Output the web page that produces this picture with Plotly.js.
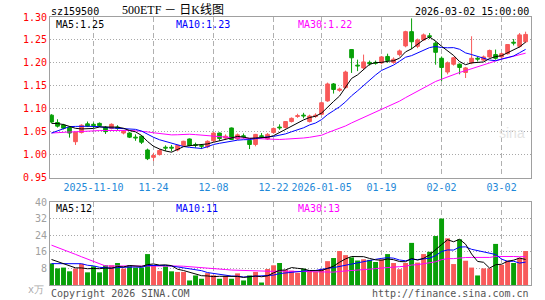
<!DOCTYPE html>
<html><head><meta charset="utf-8">
<script src="https://cdn.plot.ly/plotly-3.0.1.min.js"></script>
<style>html,body{margin:0;padding:0;background:#fff}#chart{width:545px;height:300px}</style>
</head><body><div id="chart"></div>
<script>
// ---- data ----
const opens = [1.086,1.070,1.0645,1.059,1.028,1.048,1.067,1.066,1.068,1.060,
1.057,1.060,1.047,1.047,1.038,1.040,1.010,0.994,1.000,1.016,
1.016,1.010,1.020,1.034,1.022,1.020,1.017,1.030,1.047,1.036,
1.058,1.034,1.041,1.031,1.022,1.041,1.034,1.048,1.060,1.059,
1.072,1.083,1.086,1.072,1.083,1.088,1.117,1.154,1.140,1.146,
1.229,1.195,1.189,1.201,1.201,1.200,1.214,1.201,1.218,1.237,
1.268,1.236,1.250,1.259,1.243,1.210,1.180,1.197,1.197,1.179,
1.200,1.210,1.206,1.213,1.218,1.213,1.220,1.245,1.236,1.246];
const highs = [1.088,1.077,1.067,1.061,1.050,1.066,1.072,1.070,1.070,1.062,
1.068,1.064,1.053,1.049,1.044,1.042,1.013,1.004,1.012,1.020,
1.021,1.021,1.030,1.035,1.026,1.023,1.031,1.049,1.048,1.044,
1.059,1.046,1.046,1.033,1.045,1.047,1.047,1.059,1.066,1.073,
1.081,1.089,1.091,1.087,1.090,1.115,1.157,1.156,1.146,1.183,
1.230,1.207,1.218,1.205,1.205,1.215,1.220,1.212,1.229,1.270,
1.297,1.253,1.264,1.265,1.247,1.214,1.203,1.213,1.199,1.191,
1.258,1.213,1.216,1.229,1.229,1.222,1.241,1.252,1.265,1.268];
const lows = [1.069,1.059,1.055,1.037,1.021,1.046,1.060,1.058,1.060,1.045,
1.055,1.054,1.044,1.036,1.030,1.023,0.988,0.986,0.998,1.008,
1.007,1.007,1.018,1.018,1.015,1.012,1.014,1.027,1.030,1.033,
1.032,1.032,1.035,1.012,1.018,1.036,1.032,1.046,1.054,1.057,
1.070,1.080,1.079,1.070,1.080,1.086,1.115,1.133,1.137,1.144,
1.178,1.182,1.185,1.194,1.196,1.197,1.200,1.198,1.214,1.234,
1.230,1.232,1.248,1.252,1.196,1.160,1.175,1.194,1.175,1.167,
1.197,1.203,1.204,1.211,1.207,1.210,1.218,1.238,1.233,1.243];
const closes = [1.071,1.062,1.0575,1.047,1.049,1.064,1.062,1.063,1.063,1.050,
1.066,1.057,1.051,1.038,1.036,1.027,0.991,0.998,1.009,1.014,
1.014,1.020,1.029,1.020,1.020,1.018,1.029,1.047,1.035,1.040,
1.033,1.043,1.039,1.022,1.044,1.039,1.044,1.057,1.058,1.072,
1.079,1.085,1.084,1.084,1.086,1.113,1.154,1.142,1.143,1.180,
1.211,1.193,1.202,1.198,1.199,1.213,1.205,1.208,1.226,1.268,
1.246,1.250,1.261,1.257,1.223,1.190,1.200,1.211,1.190,1.189,
1.210,1.208,1.213,1.227,1.210,1.220,1.240,1.243,1.261,1.262];
const volumes = [10.4,8.0,8.4,6.6,7.9,10.2,6.1,9.0,6.1,9.5,
9.5,10.6,7.9,9.5,8.4,8.4,14.9,9.5,6.7,9.0,
6.6,6.3,6.3,2.2,4.6,3.0,5.7,4.7,3.0,4.4,
3.0,5.6,2.2,4.6,6.3,1.2,7.7,9.5,10.6,7.3,
6.9,5.9,7.9,6.7,6.3,7.7,11.5,13.0,16.4,14.4,
13.3,11.8,12.4,12.1,11.1,12.3,14.9,10.6,7.6,10.6,
20.3,10.8,14.9,16.0,23.6,32.0,22.5,10.1,22.0,11.7,
8.4,4.6,8.0,8.0,19.8,9.7,11.7,10.6,13.1,16.4];
// history before the first visible day (estimated from where the MA lines start)
const priorCloses = [1.030,1.036,1.033,1.038,1.035,1.038,1.045,1.052,1.048,1.055,
1.050,1.046,1.053,1.057,1.049,1.045,1.055,1.062,1.058,1.055,
1.012,1.0075,1.007,1.045,1.0585,1.064,1.068,1.066,1.071];
const priorVolumes = [44,40,42,38,45,39,43,41,41,9,
10,8,11,9,10,9,8,10,9,7,
8,9,8,8.5,8,13.5,12,13,12.6];
const tickIdx = [7,17,27,37,45,55,65,75];
const tickText = ['2025-11-10','11-24','12-08','12-22','2026-01-05','01-19','02-02','03-02'];
const priceTicks = [0.95,1.00,1.05,1.10,1.15,1.20,1.25,1.30];
const volTicks = [8,16,24,32,40];
const priceMALabels = ['MA5:1.25','MA10:1.23','MA30:1.22'];
const volMALabels = ['MA5:12','MA10:11','MA30:13'];
const codeText = 'sz159500';
const titleText = '500ETF － 日K线图';
const timeText = '2026-03-02 15:00:00';

// ---- derived ----
const RED = '#f85a5a', GREEN = '#08a008';
const idx = closes.map((_, i) => i);
function ma(prior, vals, n) {
  const all = prior.concat(vals), off = prior.length;
  return vals.map((_, i) => { let s = 0; for (let j = 0; j < n; j++) s += all[off + i - j]; return s / n; });
}
const up = closes.map((c, i) => c >= opens[i]);
const colors = up.map(u => u ? RED : GREEN);
const bodyBase = closes.map((c, i) => Math.min(c, opens[i]));
const bodyH = closes.map((c, i) => Math.max(Math.abs(c - opens[i]), 0.0008));

function wicks(flag) {
  const x = [], y = [];
  idx.forEach(i => { if (up[i] === flag) { x.push(i, i, null); y.push(lows[i], highs[i], null); } });
  return { x, y };
}
const wr = wicks(true), wg = wicks(false);

const mono = 'DejaVu Sans Mono, monospace';
const traces = [
  { type: 'bar', x: idx, y: bodyH, base: bodyBase, width: 0.62, marker: { color: colors, line: { color: colors, width: 1 } }, xaxis: 'x', yaxis: 'y', hoverinfo: 'skip' },
  { type: 'scatter', mode: 'lines', x: wr.x, y: wr.y, line: { color: RED, width: 1 }, xaxis: 'x', yaxis: 'y', hoverinfo: 'skip', connectgaps: false },
  { type: 'scatter', mode: 'lines', x: wg.x, y: wg.y, line: { color: GREEN, width: 1 }, xaxis: 'x', yaxis: 'y', hoverinfo: 'skip', connectgaps: false },
  { type: 'scatter', mode: 'lines', x: idx, y: ma(priorCloses, closes, 30), line: { color: '#ff00ff', width: 1 }, xaxis: 'x', yaxis: 'y' },
  { type: 'scatter', mode: 'lines', x: idx, y: ma(priorCloses, closes, 10), line: { color: '#0000ff', width: 1 }, xaxis: 'x', yaxis: 'y' },
  { type: 'scatter', mode: 'lines', x: idx, y: ma(priorCloses, closes, 5), line: { color: '#000000', width: 1 }, xaxis: 'x', yaxis: 'y' },
  { type: 'bar', x: idx, y: volumes, width: 0.82, marker: { color: colors, line: { width: 0 } }, xaxis: 'x2', yaxis: 'y2', hoverinfo: 'skip' },
  { type: 'scatter', mode: 'lines', x: idx, y: ma(priorVolumes, volumes, 30), line: { color: '#ff00ff', width: 1 }, xaxis: 'x2', yaxis: 'y2' },
  { type: 'scatter', mode: 'lines', x: idx, y: ma(priorVolumes, volumes, 10), line: { color: '#0000ff', width: 1 }, xaxis: 'x2', yaxis: 'y2' },
  { type: 'scatter', mode: 'lines', x: idx, y: ma(priorVolumes, volumes, 5), line: { color: '#000000', width: 1 }, xaxis: 'x2', yaxis: 'y2' }
];

const L = 50, R = 531, T = 17, B = 285;
const px = x => (x - L) / (R - L), py = y => (B - y) / (B - T);
function ann(text, x, y, color, anchor, size, family) {
  return { text, x: px(x), y: py(y), xref: 'paper', yref: 'paper', showarrow: false, xanchor: anchor || 'left', yanchor: 'middle',
    font: { family: family || mono, size: size || 10, color: color || '#000' } };
}
const maColors = ['#000000', '#0000ff', '#ff00ff'];
const maX = [54, 174, 296];
const annotations = [
  ann(codeText, 49, 11, '#000', 'left', 10),
  ann(titleText, 120, 10, '#000', 'left', 12, 'Liberation Serif, Noto Sans CJK SC, serif'),
  ann(timeText, 531, 12, '#000', 'right', 10),
  ann('Copyright 2026 SINA.COM', 49, 293, '#555', 'left', 10),
  ann('http://finance.sina.com.cn', 531, 293, '#555', 'right', 10),
  ann('x万', 46, 289, '#aaa', 'right', 10),
  ann('sina', 512, 133, '#e4e4e4', 'center', 14, 'Liberation Sans, sans-serif')
];
priceMALabels.forEach((t, i) => annotations.push(ann(t, maX[i], 25, maColors[i], 'left', 10)));
volMALabels.forEach((t, i) => annotations.push(ann(t, maX[i], 208, maColors[i], 'left', 10)));

const xCommon = { range: [-0.25, 79.9], tickvals: tickIdx, showgrid: true, gridcolor: '#b0b0b0', griddash: '5px,3px', gridwidth: 1,
  showline: true, mirror: true, linecolor: '#a0a0a0', linewidth: 1, ticks: '', zeroline: false, fixedrange: true };
const yCommon = { showgrid: true, gridcolor: '#a8a8a8', griddash: '1px,2px', gridwidth: 1, showline: true, mirror: true,
  linecolor: '#a0a0a0', linewidth: 1, ticks: '', zeroline: false, fixedrange: true };

const layout = {
  width: 545, height: 300,
  margin: { l: L, r: 545 - R, t: T, b: 300 - B, pad: 0 },
  paper_bgcolor: '#fff', plot_bgcolor: '#fff',
  showlegend: false, barmode: 'overlay',
  xaxis: Object.assign({}, xCommon, { domain: [0, 1], anchor: 'y', ticktext: tickText,
    tickfont: { family: mono, size: 10, color: '#1e88d8' } }),
  yaxis: Object.assign({}, yCommon, { domain: [(B - 177.5) / (B - T), 1], range: [0.95, 1.30], tickvals: priceTicks,
    ticktext: priceTicks.map(v => v.toFixed(2)), tickfont: { family: mono, size: 10, color: '#ff0000' } }),
  xaxis2: Object.assign({}, xCommon, { domain: [0, 1], anchor: 'y2', matches: 'x', showticklabels: false }),
  yaxis2: Object.assign({}, yCommon, { domain: [0, (B - 202) / (B - T)], range: [0, 40], tickvals: volTicks,
    ticktext: volTicks.map(String), tickfont: { family: mono, size: 10, color: '#a0a0a0' } }),
  annotations
};
Plotly.newPlot('chart', traces, layout, { staticPlot: true, displayModeBar: false });
</script></body></html>
